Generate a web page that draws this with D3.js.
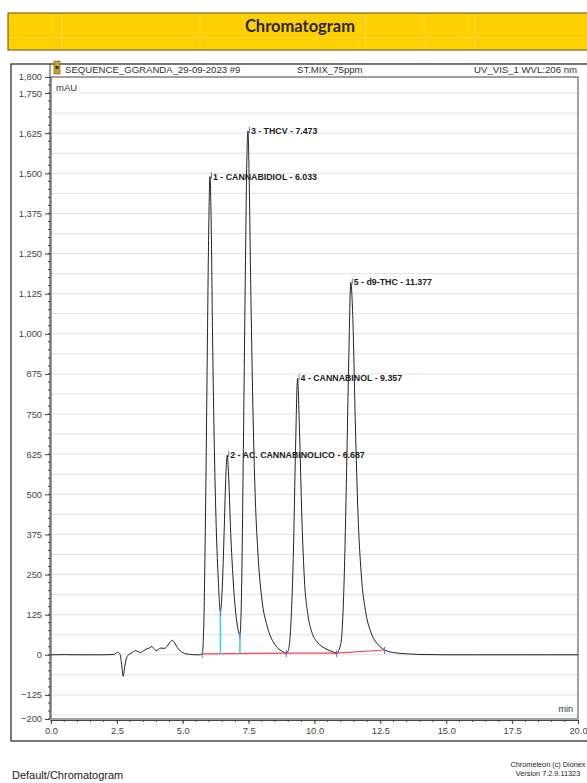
<!DOCTYPE html>
<html>
<head>
<meta charset="utf-8">
<script src="https://cdn.jsdelivr.net/npm/d3@7"></script>
<style>
  body { margin: 0; background: #fff; }
  svg { display: block; font-family: "Liberation Sans", Arial, sans-serif; }
</style>
</head>
<body>
<div id="chart"></div>
<script>
// peaks (name, retention time, height)
var peakLabels = ['1 - CANNABIDIOL - 6.033', '2 - AC. CANNABINOLICO - 6.687', '3 - THCV - 7.473',
                  '4 - CANNABINOL - 9.357', '5 - d9-THC - 11.377']
var peakTimes = [6.033, 6.687, 7.473, 9.357, 11.377]
var peakHeights = [1490, 622, 1632, 861, 1160]

// signal trace (min, mAU)
var traceTime = [0, 0.5, 1.0, 1.5, 2.0, 2.4, 2.52, 2.62, 2.68, 2.74, 2.8, 2.89, 3.0, 3.1, 3.19, 3.3, 3.41,
  3.5, 3.62, 3.75, 3.83, 3.9, 3.98, 4.08, 4.17, 4.3, 4.42, 4.52, 4.61, 4.7, 4.8, 4.9, 5.0, 5.12, 5.3,
  5.5, 5.63, 5.74, 5.80, 5.87, 5.93, 5.98, 6.033, 6.08, 6.13, 6.2, 6.27, 6.35, 6.43, 6.5, 6.57, 6.63,
  6.687, 6.74, 6.81, 6.9, 7.0, 7.1, 7.17, 7.23, 7.3, 7.37, 7.43, 7.473, 7.52, 7.58, 7.65, 7.74, 7.85,
  8.0, 8.2, 8.4, 8.6, 8.8, 8.93, 9.0, 9.1, 9.2, 9.28, 9.357, 9.43, 9.52, 9.62, 9.75, 9.9, 10.1, 10.4,
  10.7, 10.84, 11.0, 11.12, 11.22, 11.3, 11.377, 11.45, 11.55, 11.65, 11.78, 11.95, 12.15, 12.4, 12.66,
  13.0, 13.5, 14.0, 15, 16, 17, 18, 19, 20]
var traceValue = [0, 0.5, 0, 0, 0, 1, 8, 2, -30, -67, -35, -5, 3, 8, 13, 10, 7,
  12, 18, 22, 26, 20, 13, 17, 21, 20, 28, 40, 45, 36, 22, 12, 7, 3, 1,
  0, 0, 3, 100, 480, 930, 1290, 1490, 1340, 1000, 640, 400, 230, 134, 210, 380, 545,
  622, 560, 400, 250, 140, 78, 62, 190, 640, 1150, 1530, 1632, 1490, 1150, 820, 520, 320,
  175, 90, 45, 22, 10, 5, 12, 90, 320, 640, 861, 700, 430, 230, 125, 70, 40, 20,
  9, 5, 35, 220, 580, 920, 1160, 1060, 720, 440, 245, 130, 68, 33, 15,
  7, 3, 1, 0, 0, 0, 0, 0, 0]

// integration baseline and peak delimiters
var baseTime = [5.74, 8.93, 10.84, 12.66]
var baseValue = [3, 5, 5, 15]
var dropTime = [6.43, 7.17]
var dropTop = [134, 62]
var dropBottom = [3.5, 4]

// axis ticks
var yTickValues = [-200, -125, 0, 125, 250, 375, 500, 625, 750, 875, 1000, 1125, 1250, 1375, 1500, 1625, 1750, 1800]
var xTickValues = [0, 2.5, 5, 7.5, 10, 12.5, 15, 17.5, 20]

var W = 587, H = 783
var plotLeft = 51, plotRight = 578, plotTop = 77, plotBottom = 719

var svg = d3.select('#chart').append('svg')
  .attr('width', W)
  .attr('height', H)

// yellow title banner
svg.append('rect')
  .attr('x', 8).attr('y', 13)
  .attr('width', 600).attr('height', 37)
  .attr('fill', '#ffd000')
  .attr('stroke', '#5a5220')
  .attr('stroke-width', 1)
var bannerCols = [62, 200, 365, 425, 475]
bannerCols.forEach(function(bx) {
  svg.append('line')
    .attr('x1', bx).attr('x2', bx).attr('y1', 14).attr('y2', 49)
    .attr('stroke', '#f3d84a').attr('stroke-width', 1)
})
svg.append('line')
  .attr('x1', 9).attr('x2', 587).attr('y1', 38).attr('y2', 38)
  .attr('stroke', '#f3d84a').attr('stroke-width', 1)
svg.append('text')
  .attr('x', 300).attr('y', 32)
  .attr('text-anchor', 'middle')
  .style('font-family', 'Lato, "Open Sans", sans-serif')
  .style('font-weight', 700)
  .style('font-size', '16.5px')
  .attr('fill', '#2a2418')
  .text('Chromatogram')

// outer frame
svg.append('rect')
  .attr('x', 11).attr('y', 64)
  .attr('width', 600).attr('height', 677)
  .attr('fill', 'none')
  .attr('stroke', '#333')
  .attr('stroke-width', 1.3)

// scales
var x = d3.scaleLinear().domain([0, 20]).range([plotLeft, plotRight])
var y = d3.scaleLinear().domain([-200, 1800]).range([plotBottom, plotTop])

// grid lines
svg.append('g')
  .selectAll('line')
  .data(d3.range(-187.5, 1800, 62.5))
  .enter().append('line')
  .attr('x1', plotLeft).attr('x2', plotRight)
  .attr('y1', function(d) { return y(d) })
  .attr('y2', function(d) { return y(d) })
  .attr('stroke', '#e2e2e2')
  .attr('stroke-width', 1)

// plot box
svg.append('rect')
  .attr('x', plotLeft).attr('y', plotTop)
  .attr('width', plotRight - plotLeft).attr('height', plotBottom - plotTop)
  .attr('fill', 'none')
  .attr('stroke', '#444')
  .attr('stroke-width', 1)
svg.append('line')
  .attr('x1', plotLeft - 1).attr('x2', plotLeft - 1).attr('y1', 64).attr('y2', plotBottom)
  .attr('stroke', '#444')

// header texts
svg.append('rect')
  .attr('x', 54).attr('y', 61).attr('width', 6).attr('height', 13)
  .attr('fill', '#c9a227').attr('stroke', '#6b5a1a').attr('stroke-width', 0.6)
svg.append('rect')
  .attr('x', 55.5).attr('y', 66).attr('width', 3).attr('height', 3)
  .attr('fill', '#333')
var header = svg.append('g')
  .style('font-size', '9.6px')
  .attr('fill', '#333')
header.append('text').attr('x', 65).attr('y', 73).text('SEQUENCE_GGRANDA_29-09-2023 #9')
header.append('text').attr('x', 297).attr('y', 73).text('ST.MIX_75ppm')
header.append('text').attr('x', 577).attr('y', 73).attr('text-anchor', 'end').text('UV_VIS_1 WVL:206 nm')
svg.append('text')
  .attr('x', 56).attr('y', 91)
  .style('font-size', '9.5px')
  .attr('fill', '#333')
  .text('mAU')
svg.append('text')
  .attr('x', 573).attr('y', 712)
  .attr('text-anchor', 'end')
  .style('font-size', '9px')
  .attr('fill', '#333')
  .text('min')

// y axis
var yAxis = svg.append('g')
  .attr('transform', 'translate(' + (plotLeft - 1) + ',0)')
  .call(d3.axisLeft(y)
    .tickValues(yTickValues)
    .tickSize(5)
    .tickFormat(d3.format(',')))
yAxis.select('.domain').remove()
yAxis.selectAll('text').style('font-size', '9.3px').attr('fill', '#444')
yAxis.selectAll('line').attr('stroke', '#444')
svg.append('g')
  .selectAll('line')
  .data(d3.range(-200, 1800, 25))
  .enter().append('line')
  .attr('x1', plotLeft - 3).attr('x2', plotLeft - 1)
  .attr('y1', function(d) { return y(d) })
  .attr('y2', function(d) { return y(d) })
  .attr('stroke', '#444')

// x axis
var xAxis = svg.append('g')
  .attr('transform', 'translate(0,' + (plotBottom + 1) + ')')
  .call(d3.axisBottom(x)
    .tickValues(xTickValues)
    .tickSize(4)
    .tickSizeOuter(0)
    .tickFormat(d3.format('.1f')))
xAxis.select('.domain').attr('stroke', '#444')
xAxis.selectAll('text').style('font-size', '9.3px').attr('fill', '#444').attr('dy', '0.8em')
xAxis.selectAll('line').attr('stroke', '#444')
svg.append('g')
  .selectAll('line')
  .data(d3.range(0, 20, 0.5))
  .enter().append('line')
  .attr('x1', function(d) { return x(d) })
  .attr('x2', function(d) { return x(d) })
  .attr('y1', plotBottom + 1).attr('y2', plotBottom + 3)
  .attr('stroke', '#444')

// integration baseline
svg.append('path')
  .datum(baseTime.map(function(t, i) { return [t, baseValue[i]] }))
  .attr('fill', 'none')
  .attr('stroke', '#ee4a5a')
  .attr('stroke-width', 1.2)
  .attr('d', d3.line()
    .x(function(d) { return x(d[0]) })
    .y(function(d) { return y(d[1]) }))

// drop lines
svg.append('g')
  .selectAll('line')
  .data(dropTime)
  .enter().append('line')
  .attr('x1', function(d) { return x(d) })
  .attr('x2', function(d) { return x(d) })
  .attr('y1', function(d, i) { return y(dropTop[i]) })
  .attr('y2', function(d, i) { return y(dropBottom[i]) })
  .attr('stroke', '#3fd0ea')
  .attr('stroke-width', 1.6)

// trace
var trace = traceTime.map(function(t, i) { return [t, traceValue[i]] })
svg.append('path')
  .datum(trace)
  .attr('fill', 'none')
  .attr('stroke', '#222')
  .attr('stroke-width', 1)
  .attr('d', d3.line()
    .curve(d3.curveMonotoneX)
    .x(function(d) { return x(d[0]) })
    .y(function(d) { return y(d[1]) }))

// delimiter marks
svg.append('g')
  .selectAll('line')
  .data(baseTime.map(function(t, i) { return [t, baseValue[i]] }).concat(
    dropTime.map(function(t, i) { return [t, dropTop[i]] })))
  .enter().append('line')
  .attr('x1', function(d) { return x(d[0]) })
  .attr('x2', function(d) { return x(d[0]) })
  .attr('y1', function(d) { return y(d[1]) - 3 })
  .attr('y2', function(d) { return y(d[1]) + 4 })
  .attr('stroke', '#6a6ad8')
  .attr('stroke-width', 1)

// peak marks and labels
var labels = svg.append('g')
labels.selectAll('line')
  .data(peakTimes)
  .enter().append('line')
  .attr('x1', function(d) { return x(d) + 1.5 })
  .attr('x2', function(d) { return x(d) + 1.5 })
  .attr('y1', function(d, i) { return y(peakHeights[i]) - 4 })
  .attr('y2', function(d, i) { return y(peakHeights[i]) + 2 })
  .attr('stroke', '#6a6ad8')
labels.selectAll('text')
  .data(peakLabels)
  .enter().append('text')
  .attr('x', function(d, i) { return x(peakTimes[i]) + 3 })
  .attr('y', function(d, i) { return y(peakHeights[i]) + 3 })
  .style('font-size', '8.8px')
  .style('font-weight', 700)
  .attr('fill', '#222')
  .text(function(d) { return d })

// footer
svg.append('text')
  .attr('x', 12).attr('y', 779)
  .style('font-size', '11px')
  .attr('fill', '#222')
  .text('Default/Chromatogram')
svg.append('text')
  .attr('x', 548).attr('y', 767)
  .attr('text-anchor', 'middle')
  .style('font-size', '7.3px')
  .attr('fill', '#222')
  .text('Chromeleon (c) Dionex')
svg.append('text')
  .attr('x', 548).attr('y', 776)
  .attr('text-anchor', 'middle')
  .style('font-size', '7.3px')
  .attr('fill', '#222')
  .text('Version 7.2.9.11323')
</script>
</body>
</html>
